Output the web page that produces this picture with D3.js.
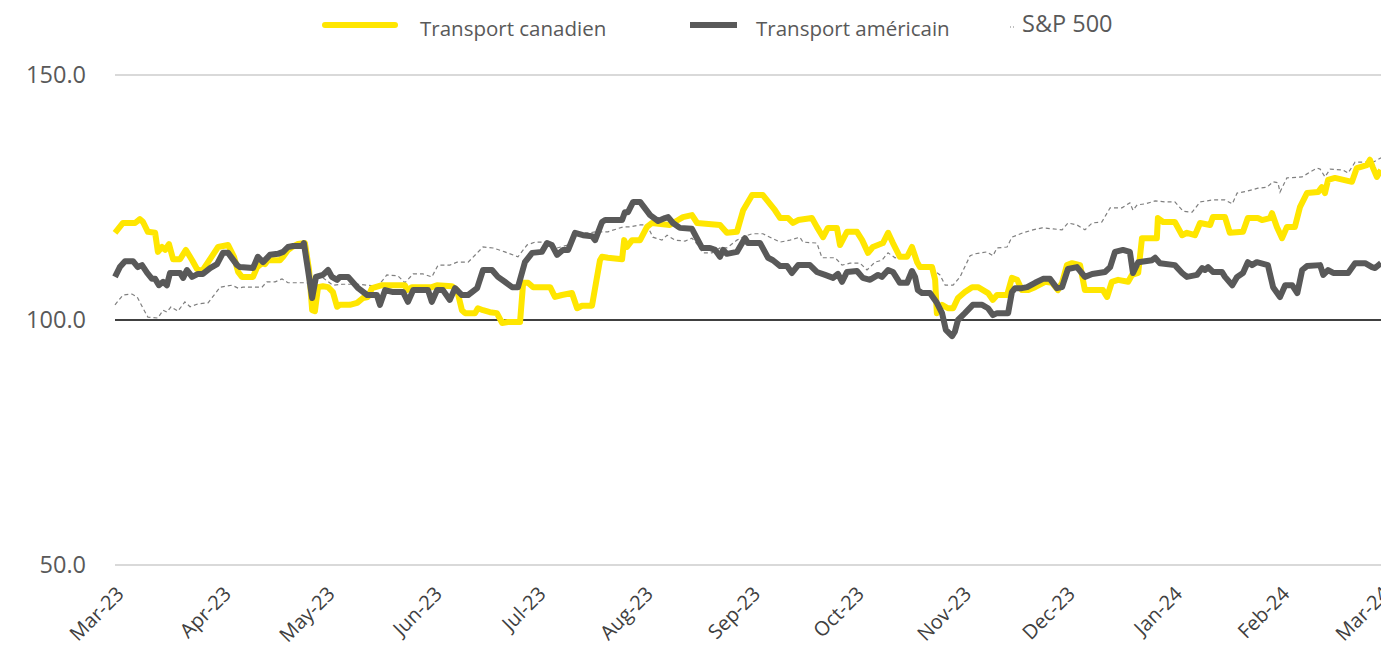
<!DOCTYPE html>
<html>
<head>
<meta charset="utf-8">
<script src="https://cdn.jsdelivr.net/npm/d3@7"></script>
<style>
  html, body { margin: 0; padding: 0; background: #fff; }
  svg { display: block; font-family: "Open Sans", "DejaVu Sans", sans-serif; }
</style>
</head>
<body>
<svg id="chart" width="1381" height="652"></svg>
<script>
// [jours depuis le 1er mars 2023, indice]
const canadien = [
  [0,117.8],[2.3,119.8],[5.8,119.8],[7.2,120.6],[8.1,120.0],[9.5,118.0],[11.6,117.8],[12.4,113.9],[13.6,114.9],
  [14.5,114.3],[15.6,115.5],[16.8,112.4],[18.8,112.4],[20.5,114.3],[22.3,112.2],[23.7,110.4],[25.2,110.0],
  [26.9,111.8],[29.8,114.9],[32.7,115.3],[34.4,112.9],[35.6,109.8],[36.7,108.8],[39.9,108.8],[41.1,110.8],
  [42.5,111.6],[43.4,111.4],[44.2,112.2],[47.7,112.2],[48.6,112.9],[50.0,114.3],[51.2,114.9],[52.9,115.5],
  [54.9,115.7],[56.1,110.2],[57.0,102.0],[57.8,101.8],[58.7,106.7],[60.1,106.9],[61.6,106.7],[63.0,105.7],
  [64.2,102.7],[65.0,103.1],[67.9,103.1],[70.0,103.5],[71.7,104.5],[73.1,104.7],[74.3,106.5],[77.2,107.1],
  [83.8,107.1],[84.4,106.1],[85.9,106.7],[91.6,106.7],[93.1,107.1],[97.4,106.9],[98.9,106.1],[100.3,102.0],
  [101.2,101.4],[104.1,101.4],[104.9,102.4],[106.4,102.0],[108.4,101.6],[110.4,101.4],[111.9,99.4],[113.6,99.6],
  [117.1,99.6],[118.0,107.6],[119.4,107.6],[120.9,106.7],[125.8,106.7],[127.2,104.7],[129.2,105.1],[132.1,105.5],
  [133.6,102.4],[135.0,102.9],[137.9,102.9],[140.2,112.2],[140.8,112.9],[142.5,112.7],[146.6,112.4],[147.2,116.3],
  [148.0,114.9],[149.5,116.3],[151.8,116.3],[153.8,119.0],[155.2,119.8],[160.4,119.4],[162.8,120.4],[164.2,121.0],
  [166.8,121.4],[168.3,119.8],[174.9,119.4],[176.9,117.8],[179.8,118.0],[181.6,122.4],[184.2,125.5],[187.3,125.5],
  [190.8,122.4],[192.3,120.8],[194.6,120.8],[196.0,119.8],[197.5,120.4],[201.5,120.8],[202.9,119.0],[204.7,116.9],
  [206.1,118.8],[208.7,118.8],[209.6,115.3],[211.6,118.0],[214.5,118.0],[216.0,116.3],[217.7,113.7],[219.1,114.9],
  [222.0,115.7],[223.5,117.8],[224.9,115.7],[226.9,112.9],[229.0,112.9],[230.4,114.9],[231.9,111.8],[232.7,110.8],
  [236.2,110.8],[237.1,108.2],[237.6,101.4],[239.1,103.1],[240.8,102.4],[242.3,102.4],[243.7,104.5],[245.7,105.7],
  [247.8,106.7],[249.5,106.7],[252.4,105.5],[253.8,104.1],[255.0,105.1],[257.9,105.1],[259.3,108.6],[260.8,108.2],
  [262.2,106.1],[263.9,106.1],[266.0,106.7],[268.9,107.8],[270.9,107.6],[272.6,106.1],[273.8,107.6],[275.2,111.2],
  [276.7,111.6],[279.0,111.2],[280.4,106.1],[285.6,106.1],[286.8,104.7],[288.2,107.8],[290.0,108.2],[292.9,107.8],
  [294.0,109.2],[295.8,109.6],[296.9,116.7],[301.2,116.7],[301.5,120.8],[303.0,120.0],[306.4,120.0],[308.5,117.3],
  [309.9,117.8],[312.2,117.3],[313.7,119.8],[316.6,119.4],[317.4,121.0],[320.9,121.0],[322.3,117.8],[326.1,118.0],
  [327.5,120.8],[330.4,120.8],[331.6,120.4],[333.9,120.8],[334.5,121.8],[335.9,119.0],[337.4,116.7],[338.8,119.0],
  [341.1,119.0],[342.6,123.1],[344.6,125.9],[347.8,126.1],[348.9,127.1],[349.8,125.9],[350.7,128.6],[352.7,129.0],
  [357.6,128.2],[359.0,131.0],[361.9,131.6],[362.8,132.7],[363.6,131.2],[364.8,129.2],[366.0,130.6]
];

const americain = [
  [0,108.8],[1.4,110.8],[2.9,112.0],[5.2,112.0],[6.6,110.8],[7.8,111.2],[9.3,109.6],[10.7,108.4],[11.6,108.4],
  [12.7,107.1],[13.9,107.8],[15.0,107.1],[15.9,109.6],[18.8,109.6],[19.7,108.6],[20.8,110.2],[22.3,108.8],
  [24.0,109.4],[25.4,109.4],[27.5,110.6],[29.5,111.4],[31.2,113.7],[32.7,113.7],[35.3,111.2],[36.1,110.8],
  [39.9,110.6],[41.3,112.9],[42.8,111.8],[44.8,113.3],[47.1,113.5],[48.6,113.9],[50.0,114.9],[51.5,115.1],
  [54.1,115.1],[54.6,115.7],[55.8,110.2],[57.0,104.5],[58.1,108.8],[60.1,109.2],[61.6,110.2],[62.7,108.8],
  [64.2,108.2],[65.0,108.8],[67.4,108.8],[70.3,106.5],[72.9,105.1],[75.7,105.1],[76.6,103.1],[78.1,106.1],
  [80.4,105.7],[83.3,105.7],[84.7,103.7],[86.2,106.1],[90.5,106.1],[91.6,103.7],[93.1,106.1],[94.8,106.1],
  [96.8,104.1],[98.3,106.5],[100.3,105.1],[102.1,105.1],[104.7,106.5],[106.4,110.2],[109.0,110.2],[110.7,108.8],
  [112.7,107.8],[114.8,106.7],[116.5,106.7],[118.5,111.8],[120.6,113.7],[123.4,113.9],[124.9,115.7],[126.3,115.3],
  [127.8,113.3],[129.5,114.3],[131.0,114.3],[133.0,117.8],[135.3,117.3],[137.9,117.1],[138.8,116.3],[140.8,120.0],
  [141.7,120.4],[146.6,120.4],[147.4,122.0],[148.3,122.0],[149.8,124.1],[151.8,124.1],[154.7,121.4],[157.0,120.2],
  [159.0,120.8],[159.9,121.0],[161.3,119.8],[163.3,118.8],[166.8,118.6],[169.7,114.7],[172.0,114.7],[173.5,114.3],
  [174.9,112.9],[175.8,114.3],[176.9,113.5],[179.8,113.9],[182.1,116.7],[183.0,115.7],[186.5,115.7],[188.8,112.7],
  [190.2,112.2],[192.3,111.0],[194.3,111.0],[195.7,109.6],[197.5,111.2],[200.9,111.2],[202.9,109.8],[205.3,109.2],
  [207.6,108.6],[209.0,109.4],[210.2,107.8],[211.6,109.8],[214.5,110.0],[216.2,108.6],[218.3,108.2],[220.6,109.2],
  [221.7,108.8],[223.5,110.2],[224.9,109.8],[226.9,107.6],[229.0,107.6],[230.4,110.0],[231.3,108.8],[232.1,106.1],
  [233.3,105.5],[235.6,105.5],[237.6,103.5],[239.1,101.4],[240.2,98.0],[242.0,96.7],[242.8,97.6],[243.7,100.0],
  [245.7,101.4],[248.0,103.1],[250.7,103.1],[252.4,102.4],[253.8,101.0],[255.0,101.4],[258.2,101.4],[259.3,105.7],
  [260.2,106.5],[262.2,106.5],[263.7,106.7],[266.0,107.6],[268.3,108.4],[270.3,108.4],[272.3,106.5],[273.8,106.7],
  [275.5,110.4],[278.1,110.8],[280.4,108.8],[282.5,109.4],[286.2,109.8],[287.7,110.8],[289.1,113.9],[291.4,114.3],
  [293.4,113.9],[294.3,109.6],[295.8,111.8],[299.8,112.2],[300.7,112.7],[302.1,111.6],[306.4,111.2],[308.5,109.6],
  [309.9,108.8],[312.8,109.2],[314.3,110.6],[315.1,110.2],[316.0,110.8],[317.4,109.8],[320.0,109.8],[320.9,108.8],
  [323.0,107.1],[324.4,108.8],[326.1,109.6],[327.5,111.8],[328.7,111.2],[330.1,111.8],[333.3,111.2],[334.8,106.7],
  [336.8,104.7],[338.3,107.1],[340.3,107.1],[341.8,105.5],[343.2,110.2],[344.6,111.0],[348.4,111.2],[349.3,109.2],
  [350.7,110.2],[352.2,109.6],[356.5,109.6],[358.5,111.6],[361.4,111.6],[363.4,110.8],[364.3,110.6],[366.0,111.6]
];

const sp500 = [
  [0,103.1],[2.3,105.1],[4.9,105.3],[6.4,104.7],[8.1,102.4],[9.5,100.6],[12.4,100.4],[13.9,102.0],[15.0,101.6],
  [16.2,102.7],[18.2,101.8],[20.2,103.7],[21.7,102.7],[24.0,103.3],[26.9,103.5],[30.4,106.7],[33.8,107.1],
  [35.6,106.5],[37.0,106.7],[42.5,106.7],[43.9,107.8],[46.3,107.8],[48.3,108.4],[50.0,107.6],[55.5,107.6],
  [57.0,106.1],[58.4,108.6],[60.1,108.6],[63.0,107.1],[65.9,107.3],[70.0,107.3],[72.9,107.1],[76.0,106.9],
  [78.6,109.2],[81.8,109.0],[83.8,107.6],[86.2,109.4],[89.0,109.4],[91.6,108.8],[93.4,111.2],[96.8,111.2],
  [98.9,111.8],[102.1,111.8],[106.4,114.9],[109.3,114.7],[112.7,113.9],[116.5,112.9],[119.1,115.3],[121.4,115.9],
  [124.9,115.9],[127.8,114.7],[131.0,115.3],[133.0,117.8],[137.3,117.8],[138.8,118.0],[142.5,118.0],[146.9,119.0],
  [148.9,119.0],[151.8,119.4],[153.8,119.4],[155.5,116.9],[158.1,116.3],[159.6,117.3],[161.9,116.3],[164.8,116.1],
  [166.8,116.7],[168.5,115.3],[170.0,113.7],[172.6,113.7],[174.9,114.7],[176.9,114.7],[179.8,116.3],[182.1,117.1],
  [184.2,117.6],[187.3,117.6],[189.9,116.7],[192.3,115.9],[195.1,116.3],[198.0,116.9],[198.9,115.9],[202.9,115.7],
  [204.4,112.7],[208.2,112.7],[210.2,111.2],[212.5,111.6],[215.4,111.6],[217.4,110.2],[219.7,111.8],[221.7,112.2],
  [223.5,113.7],[225.5,112.7],[228.4,112.9],[230.7,113.7],[232.7,110.8],[236.5,110.2],[238.5,109.2],[240.0,107.1],
  [242.3,107.1],[244.3,108.8],[247.2,113.1],[248.6,113.5],[252.1,113.9],[253.8,113.1],[255.0,114.7],[257.9,114.9],
  [259.3,116.9],[262.5,117.8],[265.4,118.4],[268.0,118.8],[271.2,118.6],[273.8,118.4],[275.5,119.8],[278.1,119.4],
  [280.4,118.4],[282.5,119.8],[285.3,120.0],[287.7,122.9],[291.1,122.9],[293.4,123.9],[294.3,122.4],[295.5,123.5],
  [297.8,123.7],[300.7,124.3],[303.6,124.1],[306.4,124.1],[308.8,122.2],[311.4,122.0],[313.7,124.1],[317.4,124.5],
  [320.9,124.5],[323.0,123.7],[324.4,125.9],[327.3,126.3],[330.4,126.9],[333.0,127.1],[334.8,128.2],[336.2,128.0],
  [336.8,126.1],[338.8,129.0],[343.2,129.2],[345.5,130.2],[347.5,131.0],[348.4,130.8],[349.8,129.2],[351.3,130.8],
  [355.0,130.6],[356.5,130.0],[358.5,132.2],[363.7,132.2],[366.0,133.1]
];

const yTicks = [50, 100, 150];
const monthLabels = ["Mar-23","Apr-23","May-23","Jun-23","Jul-23","Aug-23","Sep-23","Oct-23","Nov-23","Dec-23","Jan-24","Feb-24","Mar-24"];
const seriesNames = ["Transport canadien", "Transport américain", "S&P 500"];

const start = new Date(2023, 2, 1);
const toDate = d => new Date(start.getTime() + d * 86400000);

const svg = d3.select("#chart");

const x = d3.scaleTime()
  .domain([start, new Date(2024, 2, 1)])
  .range([115, 1381]);
const y = d3.scaleLinear().domain([50, 150]).range([565, 75]);

// grille horizontale
svg.append("g")
  .selectAll("line")
  .data(yTicks)
  .join("line")
  .attr("x1", 115).attr("x2", 1381)
  .attr("y1", d => y(d)).attr("y2", d => y(d))
  .attr("stroke", d => d === 100 ? "#000" : "#d9d9d9")
  .attr("stroke-width", d => d === 100 ? 1.3 : 2);

// axe y
svg.append("g")
  .selectAll("text")
  .data(yTicks)
  .join("text")
  .attr("x", 86)
  .attr("y", d => y(d))
  .attr("dy", "0.35em")
  .attr("text-anchor", "end")
  .attr("fill", "#595959")
  .attr("font-size", 23.5)
  .text(d => d.toFixed(1));

// axe x
const months = d3.timeMonth.range(start, new Date(2024, 2, 2));
svg.append("g")
  .selectAll("text")
  .data(months)
  .join("text")
  .attr("transform", (d) => `translate(${x(d)},${585}) rotate(-45)`)
  .attr("text-anchor", "end")
  .attr("dy", "0.72em")
  .attr("fill", "#404040")
  .attr("font-size", 20)
  .text((d, i) => monthLabels[i]);

const line = d3.line()
  .x(d => x(toDate(d[0])))
  .y(d => y(d[1]));

const plot = svg.append("g");

plot.append("path")
  .datum(sp500)
  .attr("fill", "none")
  .attr("stroke", "#7f7f7f")
  .attr("stroke-width", 1.2)
  .attr("stroke-dasharray", "4,3")
  .attr("d", line);

plot.append("path")
  .datum(canadien)
  .attr("fill", "none")
  .attr("stroke", "#ffe600")
  .attr("stroke-width", 6)
  .attr("stroke-linejoin", "round")
  .attr("d", line);

plot.append("path")
  .datum(americain)
  .attr("fill", "none")
  .attr("stroke", "#595959")
  .attr("stroke-width", 6)
  .attr("stroke-linejoin", "round")
  .attr("d", line);

// légende
const legend = svg.append("g").attr("fill", "#595959");
legend.append("line").attr("x1", 325).attr("x2", 395).attr("y1", 25).attr("y2", 25)
  .attr("stroke", "#ffe600").attr("stroke-width", 6).attr("stroke-linecap", "round");
legend.append("text").attr("x", 420).attr("y", 36).attr("font-size", 20.5).text(seriesNames[0]);
legend.append("line").attr("x1", 690).attr("x2", 737).attr("y1", 25).attr("y2", 25)
  .attr("stroke", "#595959").attr("stroke-width", 6);
legend.append("text").attr("x", 756).attr("y", 36).attr("font-size", 20.5).text(seriesNames[1]);
legend.append("line").attr("x1", 1010).attr("x2", 1014).attr("y1", 27).attr("y2", 27)
  .attr("stroke", "#7f7f7f").attr("stroke-width", 1.2).attr("stroke-dasharray", "1,2");
legend.append("text").attr("x", 1022).attr("y", 32).attr("font-size", 23.5).text(seriesNames[2]);
</script>
</body>
</html>
